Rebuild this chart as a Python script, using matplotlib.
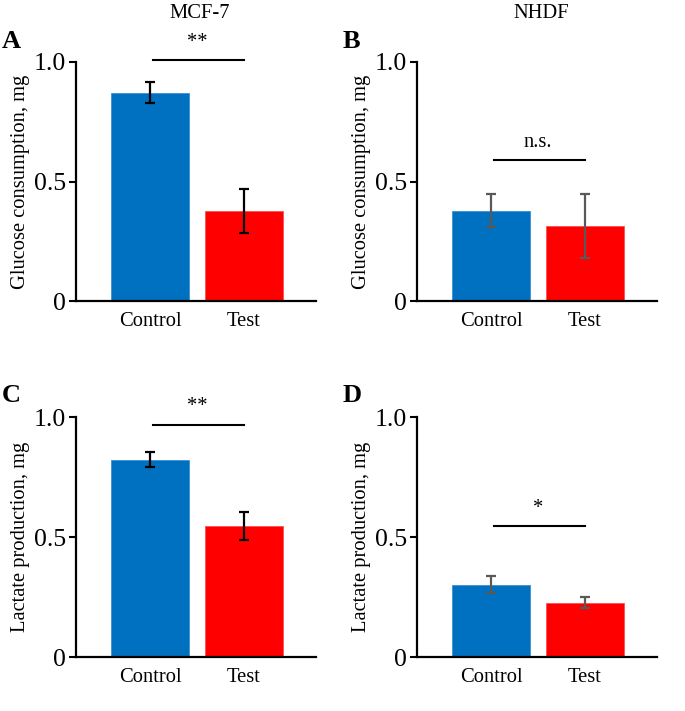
import matplotlib
matplotlib.use("Agg")
import matplotlib.pyplot as plt

categories = ["Control", "Test"]

glucose_mcf7 = [0.872, 0.377]
glucose_mcf7_err = [0.045, 0.091]
glucose_nhdf = [0.378, 0.312]
glucose_nhdf_err = [0.068, 0.134]
lactate_mcf7 = [0.822, 0.546]
lactate_mcf7_err = [0.032, 0.060]
lactate_nhdf = [0.301, 0.227]
lactate_nhdf_err = [0.035, 0.022]

sig_labels = ["**", "n.s.", "**", "*"]
sig_heights = [1.007, 0.589, 0.968, 0.546]
panel_letters = ["A", "B", "C", "D"]
col_titles = ["MCF-7", "NHDF"]
ylabels = ["Glucose consumption, mg", "Glucose consumption, mg",
           "Lactate production, mg", "Lactate production, mg"]

plt.rcParams['font.family'] = ['Liberation Serif', 'DejaVu Serif']

W, H = 685, 711
fig = plt.figure(figsize=(W / 100, H / 100), dpi=100)

# axes boxes in pixels: (left, right, top, bottom)
boxes = [(76, 316, 62, 301), (417, 657, 62, 301),
         (76, 316, 417, 657), (417, 657, 417, 657)]
values = [glucose_mcf7, glucose_nhdf, lactate_mcf7, lactate_nhdf]
errs = [glucose_mcf7_err, glucose_nhdf_err, lactate_mcf7_err, lactate_nhdf_err]
err_colors = ["black", "#595959", "black", "#595959"]
colors = ["#0070C0", "#FF0000"]

fs = 14.8
tfs = 18.5
for i in range(4):
    l, r, t, b = boxes[i]
    ax = fig.add_axes([l / W, 1 - b / H, (r - l) / W, (b - t) / H])
    x = list(range(len(categories)))
    ax.bar(x, values[i], width=0.83, color=colors, edgecolor=["#3d8fd0", "#ff5050"],
           linewidth=0.6, zorder=2)
    ax.errorbar(x, values[i], yerr=errs[i], fmt="none", ecolor=err_colors[i],
                elinewidth=1.6, capsize=3.5, capthick=1.6, zorder=3)
    ax.set_xlim(-0.787, 1.766)
    ax.set_ylim(0, 1.0)
    ax.set_yticks([0, 0.5, 1.0])
    ax.set_yticklabels(["0", "0.5", "1.0"])
    ax.set_xticks(x)
    ax.set_xticklabels(categories)
    ax.tick_params(axis="x", length=0, labelsize=fs, pad=8)
    ax.tick_params(axis="y", length=5, width=1.5, labelsize=tfs, pad=2, direction="out")
    for s in ["top", "right"]:
        ax.spines[s].set_visible(False)
    for s in ["left", "bottom"]:
        ax.spines[s].set_linewidth(1.6)
    ax.set_ylabel(ylabels[i], fontsize=fs, labelpad=3)
    # significance bar
    ax.plot([0.03, 1.0], [sig_heights[i], sig_heights[i]], color="black",
            linewidth=1.5, clip_on=False, zorder=4)
    ax.text(0.5, sig_heights[i] + 0.035, sig_labels[i], ha="center", va="bottom",
            fontsize=fs, clip_on=False)
    # panel letter
    fig.text((l - 74) / W, 1 - (t - 21) / H, panel_letters[i],
             fontsize=19, fontweight="bold", va="center", ha="left")
    if i < 2:
        fig.text((l + 124) / W, 1 - 13 / H, col_titles[i], fontsize=fs,
                 ha="center", va="center")

fig.savefig("out.png", dpi=100)
